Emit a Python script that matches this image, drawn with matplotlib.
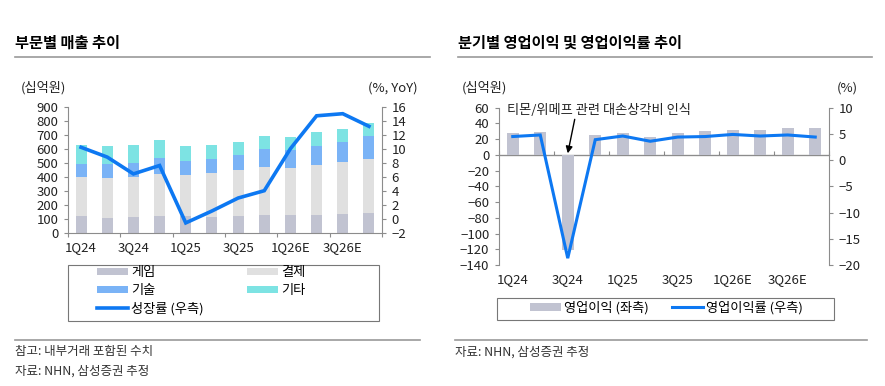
import numpy as np
import matplotlib.pyplot as plt
from matplotlib.patches import Rectangle

plt.rcParams['font.family'] = ['Noto Sans CJK KR', 'DejaVu Sans']
plt.rcParams['axes.unicode_minus'] = True

quarters = ['1Q24', '2Q24', '3Q24', '4Q24', '1Q25', '2Q25', '3Q25', '4Q25',
            '1Q26E', '2Q26E', '3Q26E', '4Q26E']

# 부문별 매출 (십억원)
game = [121, 105, 112, 121, 121, 114, 121, 129, 129, 129, 133, 140]
payment = [279, 288, 286, 296, 289, 310, 324, 340, 331, 352, 374, 389]
tech = [93, 97, 100, 119, 104, 105, 110, 129, 130, 138, 143, 161]
etc = [131, 129, 131, 126, 105, 95, 93, 92, 91, 100, 90, 93]
growth = [10.2, 8.8, 6.4, 7.6, -0.6, 1.1, 2.95, 4.0, 10.0, 14.7, 15.0, 13.2]

# 영업이익 (십억원), 영업이익률 (%)
op_profit = [28, 29, -121, 25, 28, 23, 28, 31, 32, 32, 34.5, 34]
op_margin = [4.5, 4.8, -18.7, 3.9, 4.6, 3.6, 4.4, 4.5, 4.9, 4.6, 4.8, 4.4]

c_game = '#c1c3d1'
c_pay = '#e0e0e0'
c_tech = '#7ab3f6'
c_etc = '#7de3e3'
c_line = '#0d78f2'
spine_c = '#8c8c8c'
fs = 9.5

fig = plt.figure(figsize=(8.85, 3.86), dpi=100)
W, H = 885, 386


def rect(x0, y0, x1, y1):
    return [x0 / W, 1 - y1 / H, (x1 - x0) / W, (y1 - y0) / H]


def style(ax):
    ax.spines['top'].set_visible(False)
    for s in ['left', 'right', 'bottom']:
        ax.spines[s].set_color(spine_c)
    ax.tick_params(axis='both', colors=spine_c, labelcolor='#222222',
                   labelsize=fs, length=3, width=0.8, pad=4)


def frame(x0, y0, x1, y1):
    fig.add_artist(Rectangle((x0 / W, 1 - y1 / H), (x1 - x0) / W, (y1 - y0) / H,
                             transform=fig.transFigure, fill=False,
                             edgecolor='#777777', lw=0.8))


x = np.arange(len(quarters))
label_pos = x[::2]
tick_pos = np.arange(-0.5, 12, 2)

# ---------------- 왼쪽: 부문별 매출 추이
ax1 = fig.add_axes(rect(68, 106.7, 382, 232.7))
bw = 0.42
bottom = np.zeros(len(x))
for vals, col, lab in [(game, c_game, '게임'), (payment, c_pay, '결제'),
                       (tech, c_tech, '기술'), (etc, c_etc, '기타')]:
    ax1.bar(x, vals, bw, bottom=bottom, color=col, label=lab, zorder=2)
    bottom += np.array(vals)
ax1.set_ylim(0, 900)
ax1.set_yticks(np.arange(0, 901, 100))
ax1.set_xlim(-0.5, 11.5)
ax1.set_xticks(tick_pos)
ax1.set_xticklabels([])
ax1.set_xticks(label_pos, minor=True)
ax1.set_xticklabels([quarters[i] for i in label_pos], minor=True)
style(ax1)
ax1.tick_params(axis='x', which='minor', length=0, pad=6, labelsize=fs,
                labelcolor='#222222')
ax1.spines['right'].set_visible(False)

ax1r = ax1.twinx()
ln, = ax1r.plot(x, growth, color=c_line, lw=2.6, label='성장률 (우측)',
                solid_joinstyle='miter', zorder=3)
ax1r.set_ylim(-2, 16)
ax1r.set_yticks(np.arange(-2, 17, 2))
style(ax1r)
ax1r.spines['left'].set_visible(False)
ax1r.spines['bottom'].set_visible(False)

fig.text(21 / W, 1 - 88 / H, '(십억원)', fontsize=fs, color='#222222', va='center')
fig.text(418 / W, 1 - 88 / H, '(%, YoY)', fontsize=fs, color='#222222',
         va='center', ha='right')

h, l = ax1.get_legend_handles_labels()
# column-major fill: col1 = 게임, 기술, 성장률 / col2 = 결제, 기타
handles = [h[0], h[2], ln, h[1], h[3]]
labels = [l[0], l[2], ln.get_label(), l[1], l[3]]
frame(68, 265, 379, 321)
fig.legend(handles, labels, ncol=2, loc='upper left',
           bbox_to_anchor=(97 / W, 1 - 266 / H), frameon=False, fontsize=fs,
           handlelength=2.35, handleheight=0.5, handletextpad=0.25,
           borderpad=0, labelspacing=0.38, columnspacing=3.25,
           borderaxespad=0)

# ---------------- 오른쪽: 분기별 영업이익 및 영업이익률 추이
ax2 = fig.add_axes(rect(499, 107.7, 829, 265))
ax2.bar(x, op_profit, 0.42, color=c_game, label='영업이익 (좌측)', zorder=2)
ax2.set_ylim(-140, 60)
ax2.set_yticks(np.arange(-140, 61, 20))
ax2.set_xlim(-0.5, 11.5)
ax2.set_xticks(label_pos)
ax2.set_xticklabels([quarters[i] for i in label_pos])
style(ax2)
ax2.spines['bottom'].set_visible(False)
ax2.spines['right'].set_visible(False)
ax2.tick_params(axis='x', length=0, pad=6)
ax2.axhline(0, color=spine_c, lw=0.8, zorder=1)
sec = ax2.secondary_xaxis(140 / 200)
sec.set_xticks(tick_pos)
sec.set_xticklabels([])
sec.spines['bottom'].set_visible(False)
sec.tick_params(axis='x', colors=spine_c, length=3, width=0.8)

ax2r = ax2.twinx()
ln2, = ax2r.plot(x, op_margin, color=c_line, lw=2.2, label='영업이익률 (우측)',
                 solid_joinstyle='miter', zorder=3)
ax2r.set_ylim(-20, 10)
ax2r.set_yticks(np.arange(-20, 11, 5))
style(ax2r)
ax2r.spines['left'].set_visible(False)
ax2r.spines['bottom'].set_visible(False)

ax2.annotate('티몬/위메프 관련 대손상각비 인식', xy=(2, 2), xytext=(-0.2, 57),
             textcoords='data', fontsize=fs, color='#222222', va='center',
             ha='left', zorder=5,
             arrowprops=dict(arrowstyle='-|>', color='black', lw=1,
                             mutation_scale=10, shrinkA=0, shrinkB=0,
                             relpos=(0.37, 0)))

fig.text(462 / W, 1 - 88 / H, '(십억원)', fontsize=fs, color='#222222', va='center')
fig.text(858 / W, 1 - 88 / H, '(%)', fontsize=fs, color='#222222',
         va='center', ha='right')

b2, l2 = ax2.get_legend_handles_labels()
frame(497, 298, 834, 320)
fig.legend(b2 + [ln2], l2 + [ln2.get_label()], ncol=2, loc='upper left',
           bbox_to_anchor=(530 / W, 1 - 301 / H), frameon=False, fontsize=fs,
           handlelength=2.35, handleheight=0.5, handletextpad=0.25,
           borderpad=0, columnspacing=1.75, borderaxespad=0)

# ---------------- 제목, 구분선, 주석
fig.text(15 / W, 1 - 43 / H, '부문별 매출 추이', fontsize=11, fontweight='bold',
         va='center')
fig.text(458 / W, 1 - 43 / H, '분기별 영업이익 및 영업이익률 추이', fontsize=11,
         fontweight='bold', va='center')
for x0, x1, yy in [(15, 430, 57), (458, 872, 57), (15, 420, 340), (455, 867, 340)]:
    fig.add_artist(plt.Line2D([x0 / W, x1 / W], [1 - yy / H, 1 - yy / H],
                              color='#999999', lw=1.2))

fig.text(15 / W, 1 - 352 / H, '참고: 내부거래 포함된 수치', fontsize=9,
         va='center', color='#333333')
fig.text(15 / W, 1 - 371 / H, '자료: NHN, 삼성증권 추정', fontsize=9,
         va='center', color='#333333')
fig.text(455 / W, 1 - 352 / H, '자료: NHN, 삼성증권 추정', fontsize=9,
         va='center', color='#333333')

fig.savefig('out.png', dpi=100)
